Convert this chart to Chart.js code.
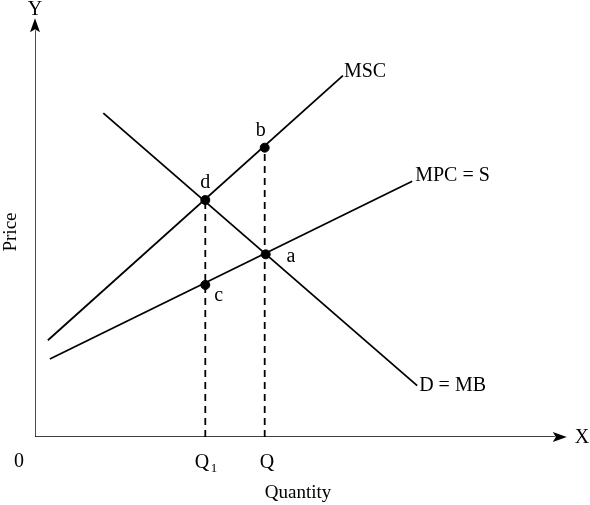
<!DOCTYPE html>
<html>
<head>
<meta charset="utf-8">
<script src="https://cdn.jsdelivr.net/npm/chart.js@4"></script>
<style>body{margin:0;background:#fff}</style>
</head>
<body>
<canvas id="c" width="590" height="505"></canvas>
<script>
// coordinates measured from the origin of the drawn axes
const mscLine = [{x: 13, y: 98}, {x: 311, y: 366}];
const mpcLine = [{x: 15, y: 79}, {x: 381, y: 259}];
const demandLine = [{x: 69, y: 328}, {x: 386, y: 52}];
const dots = [{x: 172, y: 240}, {x: 232, y: 293}, {x: 233, y: 185}, {x: 172, y: 154}];
const dashQ1 = [{x: 172, y: 0}, {x: 172, y: 240}];
const dashQ = [{x: 232, y: 0}, {x: 232, y: 293}];
const xAxis = [{x: 0, y: 0}, {x: 525, y: 0}];
const yAxis = [{x: 0, y: 0}, {x: 0, y: 412}];
const labels = [
  ['MSC', 312, 370, 'left'], ['MPC = S', 384, 265, 'left'], ['D = MB', 388, 52, 'left'],
  ['b', 228, 310, 'center'], ['d', 172, 257, 'center'], ['a', 254, 183, 'left'], ['c', 181, 143, 'left']
];

const serif = "'Liberation Serif', 'DejaVu Serif', serif";

const linea = (data, extra) => Object.assign({
  type: 'line', data, borderColor: '#000', borderWidth: 1.8, pointRadius: 0, fill: false
}, extra || {});

const textos = {
  id: 'textos',
  afterDraw(chart) {
    const ctx = chart.ctx, sx = chart.scales.x, sy = chart.scales.y;
    const px = v => sx.getPixelForValue(v), py = v => sy.getPixelForValue(v);
    ctx.save();
    ctx.fillStyle = '#000';
    // arrow heads
    ctx.beginPath();
    ctx.moveTo(px(525) + 12, py(0)); ctx.lineTo(px(525) - 2, py(0) - 5); ctx.lineTo(px(525) + 1, py(0)); ctx.lineTo(px(525) - 2, py(0) + 5); ctx.closePath(); ctx.fill();
    ctx.beginPath();
    ctx.moveTo(px(0), py(412) - 12); ctx.lineTo(px(0) - 5, py(412) + 2); ctx.lineTo(px(0), py(412) - 1); ctx.lineTo(px(0) + 5, py(412) + 2); ctx.closePath(); ctx.fill();

    ctx.font = '20px ' + serif;
    ctx.textBaseline = 'middle';
    labels.forEach(([t, x, y, al]) => { ctx.textAlign = al; ctx.fillText(t, px(x), py(y)); });
    ctx.textAlign = 'center';
    ctx.fillText('Y', 35, 10);
    ctx.fillText('X', 582, 438);
    ctx.fillText('0', 19, 462);
    ctx.fillText('Q', 267, 463);
    ctx.fillText('Q', 202, 463);
    ctx.font = '13px ' + serif;
    ctx.fillText('1', 214, 469);
    ctx.font = '19px ' + serif;
    ctx.fillText('Quantity', 298, 493);
    ctx.translate(11, 232);
    ctx.rotate(-Math.PI / 2);
    ctx.fillText('Price', 0, 0);
    ctx.restore();
  }
};

new Chart(document.getElementById('c'), {
  data: {
    datasets: [
      linea(xAxis, {borderWidth: 1.4}),
      linea(yAxis, {borderWidth: 1.4}),
      linea(mscLine),
      linea(mpcLine),
      linea(demandLine),
      linea(dashQ1, {borderDash: [7, 5]}),
      linea(dashQ, {borderDash: [7, 5]}),
      {type: 'scatter', data: dots, pointRadius: 4.5, backgroundColor: '#000', borderColor: '#000'}
    ]
  },
  options: {
    responsive: false,
    animation: false,
    layout: {padding: {left: 35, right: 0, top: 0, bottom: 68}},
    plugins: {legend: {display: false}, tooltip: {enabled: false}},
    scales: {
      x: {type: 'linear', min: 0, max: 555, display: false},
      y: {type: 'linear', min: 0, max: 437, display: false}
    }
  },
  plugins: [textos]
});
</script>
</body>
</html>
